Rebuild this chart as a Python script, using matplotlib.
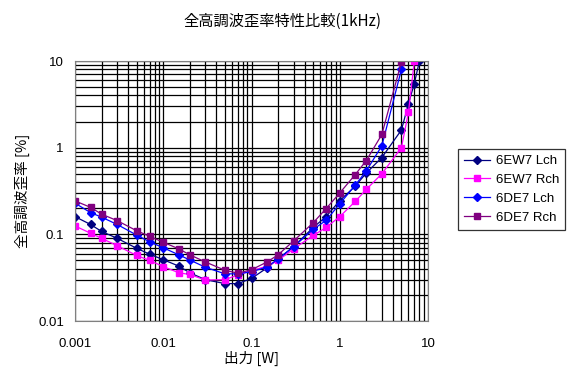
import numpy as np
import matplotlib.pyplot as plt
from matplotlib.ticker import LogLocator, FixedLocator, NullFormatter

plt.rcParams['font.family'] = ['Liberation Sans', 'Noto Sans CJK JP', 'DejaVu Sans']
jp = ['Noto Sans CJK JP', 'DejaVu Sans']

# output power [W]
x_common = [0.001, 0.0015, 0.002, 0.003, 0.005, 0.007, 0.01, 0.015, 0.02, 0.03,
            0.05, 0.07, 0.1, 0.15, 0.2, 0.3, 0.5, 0.7, 1, 1.5, 2, 3]

# THD [%]
ew7_l_x = x_common + [5, 6, 7, 8]
ew7_l = [0.16, 0.13, 0.108, 0.09, 0.069, 0.059, 0.051, 0.043, 0.036, 0.030,
         0.027, 0.027, 0.031, 0.041, 0.052, 0.072, 0.12, 0.16, 0.245, 0.36, 0.51, 0.77,
         1.6, 3.2, 5.5, 10]

ew7_r_x = x_common + [5, 6, 7]
ew7_r = [0.125, 0.103, 0.090, 0.074, 0.057, 0.050, 0.0425, 0.036, 0.0344, 0.0297,
         0.030, 0.034, 0.038, 0.043, 0.05, 0.068, 0.097, 0.12, 0.16, 0.24, 0.33, 0.5,
         1.0, 2.55, 10]

de7_l_x = x_common + [5]
de7_l = [0.229, 0.178, 0.158, 0.13, 0.098, 0.082, 0.070, 0.058, 0.0506, 0.0417,
         0.035, 0.035, 0.037, 0.042, 0.052, 0.072, 0.114, 0.145, 0.225, 0.37, 0.54, 1.05,
         8.0]

de7_r_x = x_common + [5]
de7_r = [0.243, 0.205, 0.171, 0.144, 0.11, 0.095, 0.081, 0.068, 0.058, 0.048,
         0.0385, 0.0356, 0.039, 0.048, 0.058, 0.084, 0.136, 0.198, 0.30, 0.49, 0.71, 1.42,
         9.8]

fig = plt.figure(figsize=(5.78, 3.79), dpi=100)
ax = fig.add_axes([75 / 578, 1 - 321 / 379, (428 - 75) / 578, (321 - 61) / 379])

ax.plot(ew7_l_x, ew7_l, color='#000080', marker='D', ms=4.5, lw=0.9, label='6EW7 Lch')
ax.plot(ew7_r_x, ew7_r, color='#FF00FF', marker='s', ms=4.5, lw=0.9, label='6EW7 Rch')
ax.plot(de7_l_x, de7_l, color='#0000FF', marker='D', ms=4.5, lw=0.9, label='6DE7 Lch')
ax.plot(de7_r_x, de7_r, color='#800080', marker='s', ms=4.5, lw=0.9, label='6DE7 Rch')

ax.set_xscale('log')
ax.set_yscale('log')
ax.set_xlim(0.001, 10)
ax.set_ylim(0.01, 10)

ax.xaxis.set_major_locator(FixedLocator([0.001, 0.01, 0.1, 1, 10]))
ax.yaxis.set_major_locator(FixedLocator([0.01, 0.1, 1, 10]))
ax.set_xticklabels(['0.001', '0.01', '0.1', '1', '10'])
ax.set_yticklabels(['0.01', '0.1', '1', '10'])
ax.xaxis.set_minor_locator(LogLocator(base=10, subs=np.arange(2, 10)))
ax.yaxis.set_minor_locator(LogLocator(base=10, subs=np.arange(2, 10)))
ax.xaxis.set_minor_formatter(NullFormatter())
ax.yaxis.set_minor_formatter(NullFormatter())
ax.grid(True, which='both', color='black', lw=0.9)
ax.set_axisbelow(True)
ax.tick_params(which='both', length=0, labelsize=9.5)
ax.tick_params(axis='x', pad=12)
ax.tick_params(axis='y', pad=8)
for s in ax.spines.values():
    s.set_color('#808080')

fig.text(282 / 578, 1 - 21 / 379, '全高調波歪率特性比較(1kHz)', ha='center', va='center',
         fontsize=11, family=jp)
fig.text(251 / 578, 1 - 358 / 379, '出力 [W]', ha='center', va='center', fontsize=10.5, family=jp)
fig.text(22 / 578, 1 - 191 / 379, '全高調波歪率 [%]', ha='center', va='center', rotation=90,
         fontsize=10.5, family=jp)

leg = fig.legend(loc='upper left', bbox_to_anchor=(458 / 578, 1 - 149 / 379),
                 fontsize=9.5, frameon=True, fancybox=False, edgecolor='black',
                 handlelength=2.0, handletextpad=0.4, borderpad=0.45, labelspacing=0.5,
                 borderaxespad=0)
leg.get_frame().set_linewidth(0.9)

fig.savefig('out.png', dpi=100)
